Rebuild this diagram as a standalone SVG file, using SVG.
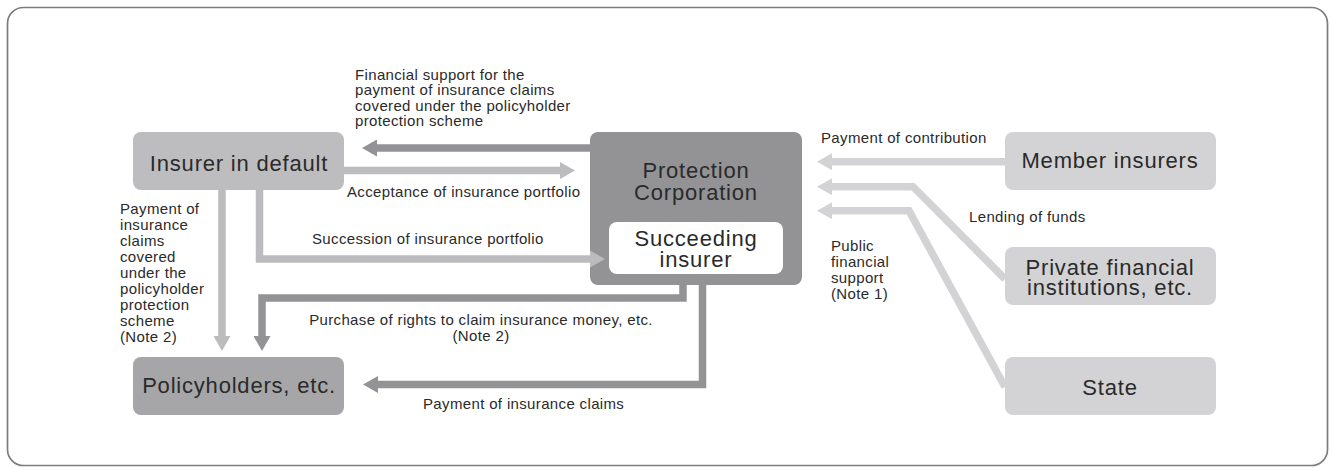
<svg xmlns="http://www.w3.org/2000/svg" width="1330" height="468" viewBox="0 0 1330 468">
<style>
  .frame{fill:#ffffff;stroke:#7d7d7f;stroke-width:1.7}
  .big{font-family:"Liberation Sans",Arial,sans-serif;font-size:22px;letter-spacing:0.8px;fill:#2a2a2a;text-anchor:middle}
  .lbl{font-family:"Liberation Sans",Arial,sans-serif;font-size:15px;letter-spacing:0.35px;fill:#2a2a2a}
  .mid{text-anchor:middle}
  .c-dark{fill:none;stroke:#939396;stroke-width:7.5;stroke-linejoin:miter}
  .c-mid{fill:none;stroke:#bcbcbe;stroke-width:7.5;stroke-linejoin:miter}
  .c-light{fill:none;stroke:#d3d3d5;stroke-width:7.5;stroke-linejoin:miter}
</style>
<defs>
  <marker id="hd" markerUnits="userSpaceOnUse" viewBox="0 0 15 17" markerWidth="15" markerHeight="17" refX="5" refY="8.5" orient="auto"><path d="M0,0 L15,8.5 L0,17 z" fill="#939396"/></marker>
  <marker id="hm" markerUnits="userSpaceOnUse" viewBox="0 0 15 17" markerWidth="15" markerHeight="17" refX="5" refY="8.5" orient="auto"><path d="M0,0 L15,8.5 L0,17 z" fill="#bcbcbe"/></marker>
  <marker id="hl" markerUnits="userSpaceOnUse" viewBox="0 0 15 17" markerWidth="15" markerHeight="17" refX="5" refY="8.5" orient="auto"><path d="M0,0 L15,8.5 L0,17 z" fill="#d3d3d5"/></marker>
</defs>

<rect class="frame" x="7.5" y="7.5" width="1320" height="458" rx="16"/>

<g id="insurer-in-default">
  <rect x="133" y="132" width="211" height="58" rx="8" fill="#bdbdbf"/>
  <text class="big" x="239" y="171">Insurer in default</text>
</g>

<g id="protection-corporation">
  <rect x="590" y="132" width="212" height="153" rx="8" fill="#939396"/>
  <text class="big" x="696" y="178">Protection</text>
  <text class="big" x="696" y="200">Corporation</text>
</g>

<g id="succeeding-insurer">
  <rect x="609" y="222" width="174" height="52" rx="8" fill="#ffffff"/>
  <text class="big" x="696" y="246">Succeeding</text>
  <text class="big" x="696" y="267">insurer</text>
</g>

<g id="policyholders">
  <rect x="133" y="357" width="211" height="58" rx="8" fill="#a6a6a8"/>
  <text class="big" x="239" y="393">Policyholders, etc.</text>
</g>

<g id="member-insurers">
  <rect x="1005" y="132" width="211" height="58" rx="8" fill="#d3d3d5"/>
  <text class="big" x="1110" y="168">Member insurers</text>
</g>

<g id="private-financial-institutions">
  <rect x="1005" y="247" width="211" height="58" rx="8" fill="#d3d3d5"/>
  <text class="big" x="1110" y="275">Private financial</text>
  <text class="big" x="1110" y="295">institutions, etc.</text>
</g>

<g id="state">
  <rect x="1005" y="357" width="211" height="58" rx="8" fill="#d3d3d5"/>
  <text class="big" x="1110" y="395">State</text>
</g>

<g id="connectors">
  <path id="c-financial-support" class="c-dark" d="M590,148 H372" marker-end="url(#hd)"/>
  <path id="c-acceptance" class="c-mid" d="M344,170.5 H565" marker-end="url(#hm)"/>
  <path id="c-succession" class="c-mid" d="M259.5,190 V259 H595" marker-end="url(#hm)"/>
  <path id="c-payment-default" class="c-mid" d="M222,190 V341" marker-end="url(#hm)"/>
  <path id="c-purchase" class="c-dark" d="M683,285 V298 H262 V341" marker-end="url(#hd)"/>
  <path id="c-payment-claims" class="c-dark" d="M702.5,285 V384.5 H373" marker-end="url(#hd)"/>
  <path id="c-contribution" class="c-light" d="M1005,161.7 H827" marker-end="url(#hl)"/>
  <path id="c-lending" class="c-light" d="M1005,279 L913,186.7 H827" marker-end="url(#hl)"/>
  <path id="c-public" class="c-light" d="M1005,387 L909,210.7 H827" marker-end="url(#hl)"/>

  <text class="lbl" x="355" y="79.5">Financial support for the</text>
  <text class="lbl" x="355" y="95">payment of insurance claims</text>
  <text class="lbl" x="355" y="110.5">covered under the policyholder</text>
  <text class="lbl" x="355" y="126">protection scheme</text>

  <text class="lbl" x="347" y="197">Acceptance of insurance portfolio</text>
  <text class="lbl" x="312" y="244">Succession of insurance portfolio</text>

  <text class="lbl" x="120" y="214">Payment of</text>
  <text class="lbl" x="120" y="230">insurance</text>
  <text class="lbl" x="120" y="246">claims</text>
  <text class="lbl" x="120" y="262">covered</text>
  <text class="lbl" x="120" y="278">under the</text>
  <text class="lbl" x="120" y="294">policyholder</text>
  <text class="lbl" x="120" y="310">protection</text>
  <text class="lbl" x="120" y="326">scheme</text>
  <text class="lbl" x="120" y="342">(Note 2)</text>

  <text class="lbl mid" x="481" y="325">Purchase of rights to claim insurance money, etc.</text>
  <text class="lbl mid" x="481" y="341">(Note 2)</text>

  <text class="lbl" x="423" y="409">Payment of insurance claims</text>

  <text class="lbl" x="821" y="142.5">Payment of contribution</text>
  <text class="lbl" x="969" y="221.5">Lending of funds</text>

  <text class="lbl" x="831" y="251">Public</text>
  <text class="lbl" x="831" y="267">financial</text>
  <text class="lbl" x="831" y="283">support</text>
  <text class="lbl" x="831" y="299">(Note 1)</text>
</g>
</svg>
